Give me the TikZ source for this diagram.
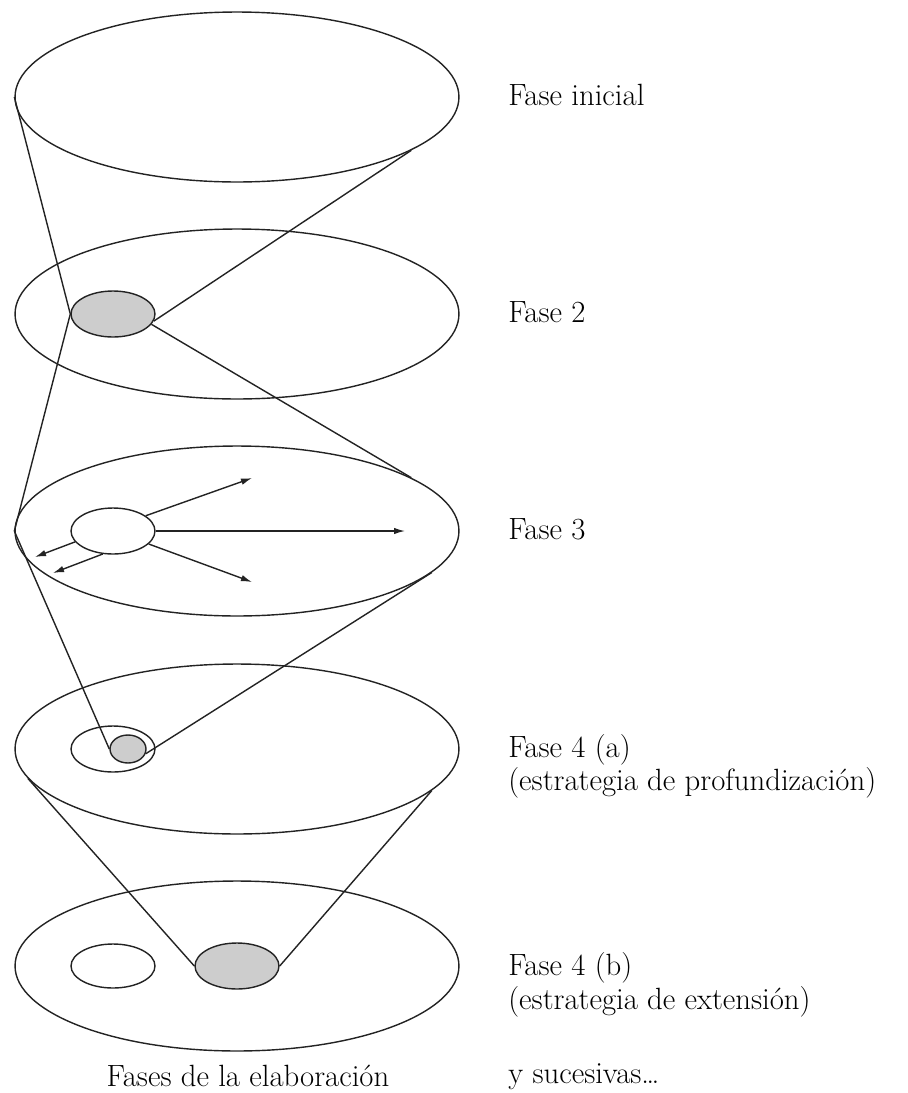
\documentclass[tikz,border=0pt]{standalone}
\usepackage{xcolor}
\usepackage{tikz}
\usetikzlibrary{arrows.meta, shapes.geometric}
\definecolor{ink}{RGB}{35,35,35}
\definecolor{shade}{RGB}{205,205,205}
\tikzset{
    phase/.style={
        ellipse,
        draw=ink,
        line width=0.8pt,
        inner sep=0pt,
        minimum width=8.88cm,
        minimum height=3.4cm
    },
    core/.style={
        ellipse,
        draw=ink,
        line width=0.8pt,
        inner sep=0pt,
        minimum width=1.68cm,
        minimum height=0.92cm
    },
    lbl/.style={
        font=\fontsize{17.5}{20}\selectfont,
        anchor=base west,
        inner sep=0pt
    },
    link/.style={draw=ink, line width=0.8pt},
    spread/.style={-{Latex[length=2.2mm, width=1.3mm]}, draw=ink, line width=0.8pt}
}

\begin{document}
\begin{tikzpicture}[
    x=0.02cm, y=-0.02cm,
    focus/.style={core, fill=shade},
    seed/.style={core, fill=shade, minimum width=0.72cm, minimum height=0.56cm}
]
\useasboundingbox (0,0) rectangle (908,1093);

\node[phase] (initial) at (237,97) {};
\node[phase] (second) at (237,314) {};
\node[phase] (third) at (237,531) {};
\node[phase] (deep) at (237,749) {};
\node[phase] (wide) at (237,966) {};

\node[focus] (secfocus) at (113,314) {};
\node[core] (thirdcore) at (113,531) {};
\node[core] (deepring) at (113,749) {};
\node[seed] (deepseed) at (128,749) {};
\node[core, minimum height=0.88cm] (wideold) at (113,966) {};
\node[focus] (widefocus) at (237,966) {};

\coordinate (tipup) at (252,478);
\coordinate (tipright) at (405,531);
\coordinate (tipdown) at (252,582);
\coordinate (tipback) at (35,557);
\coordinate (tipbacklow) at (53,573);

\draw[link] (initial.west) -- (secfocus.west);
\draw[link] (initial.-17) -- (secfocus.-10);
\draw[link] (secfocus.west) -- (third.west);
\draw[link] (secfocus.-15) -- (third.17);
\draw[link] (third.west) -- (deepseed.west);
\draw[link] (third.-12) -- (deepseed.-15);
\draw[link] (deep.-172) -- (widefocus.west);
\draw[link] (deep.-12) -- (widefocus.east);

\draw[spread] (thirdcore.25) -- (tipup);
\draw[spread] (thirdcore.east) -- (tipright);
\draw[spread] (thirdcore.-20) -- (tipdown);
\draw[spread] (thirdcore.-164) -- (tipback);
\draw[spread] (thirdcore.-114) -- (tipbacklow);

\node[lbl] (lblinitial) at (508,105) {Fase inicial};
\node[lbl] (lblsecond) at (508,322) {Fase 2};
\node[lbl] (lblthird) at (508,539) {Fase 3};
\node[lbl] (lbldeep) at (508,757) {Fase 4 (a)};
\node[lbl] (lbldeepnote) at (508,790) {(estrategia de profundización)};
\node[lbl] (lblwide) at (508,975) {Fase 4 (b)};
\node[lbl] (lblwidenote) at (508,1009) {(estrategia de extensión)};
\node[lbl] (lblmore) at (508,1083) {y sucesivas\ldots};
\node[lbl, anchor=base] (caption) at (248,1086) {Fases de la elaboración};

\end{tikzpicture}
\end{document}
